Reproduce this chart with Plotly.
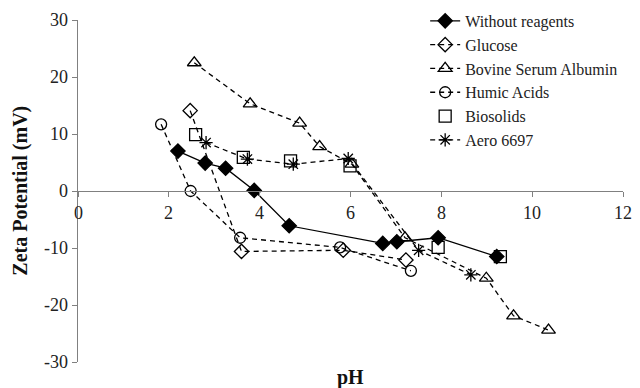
import plotly.graph_objects as go

# pH / zeta-potential measurements per conditioning reagent
ph_none = [2.20, 2.80, 3.25, 3.88, 4.65, 6.71, 7.02, 7.93, 9.22]
zeta_none = [7.0, 4.9, 4.0, 0.1, -6.1, -9.2, -8.9, -8.2, -11.5]

ph_glucose = [2.47, 3.60, 5.84, 7.22]
zeta_glucose = [14.1, -10.6, -10.4, -12.1]

ph_bsa = [2.56, 3.79, 4.88, 5.32, 6.03, 7.20, 8.99, 9.59, 10.36]
zeta_bsa = [22.5, 15.3, 11.9, 7.8, 4.7, -8.2, -15.3, -21.9, -24.4]

ph_humic = [1.83, 2.48, 3.57, 5.77, 7.33]
zeta_humic = [11.7, 0.0, -8.2, -9.9, -14.0]

ph_biosolids = [2.59, 3.64, 4.68, 5.99, 7.93, 9.30]
zeta_biosolids = [9.9, 5.9, 5.3, 4.4, -9.9, -11.5]

ph_aero = [2.82, 3.73, 4.74, 5.95, 7.50, 8.65]
zeta_aero = [8.5, 5.6, 4.7, 5.7, -10.4, -14.7]

x_ticks = [0, 2, 4, 6, 8, 10, 12]
y_ticks = [-30, -20, -10, 0, 10, 20, 30]

SERIF = "Times New Roman"
DASH = "5px,4px"
TICK_FONT = dict(family=SERIF, size=18, color="#222")
LEGEND_FONT = dict(family=SERIF, size=16, color="#222")

fig = go.Figure()


def add_series(x, y, name, symbol, mode="lines+markers", dash=DASH, size=10):
    fig.add_trace(go.Scatter(
        x=x, y=y, name=name, mode=mode,
        line=dict(color="black", width=1.3, dash=dash),
        marker=dict(symbol=symbol, size=size, color="black",
                    line=dict(color="black", width=1.3)),
    ))


add_series(ph_none, zeta_none, "Without reagents", "diamond", dash="solid", size=11)
add_series(ph_glucose, zeta_glucose, "Glucose", "diamond-open", size=11)
add_series(ph_bsa, zeta_bsa, "Bovine Serum Albumin", "triangle-up-open", size=12)
add_series(ph_humic, zeta_humic, "Humic Acids", "circle-open", size=11)
add_series(ph_biosolids, zeta_biosolids, "Biosolids", "square-open", mode="markers", size=12)
add_series(ph_aero, zeta_aero, "Aero 6697", "asterisk-open", size=11)

# Tick labels placed on the axes' own scales as serif text
tick_labels = []
for v in x_ticks:
    tick_labels.append(dict(text=str(v), x=v, y=0, xref="x", yref="y",
                            xanchor="center", yanchor="middle", yshift=-22,
                            showarrow=False, font=TICK_FONT))
for v in y_ticks:
    tick_labels.append(dict(text=str(v), x=0, y=v, xref="paper", yref="y",
                            xanchor="right", yanchor="middle", xshift=-8,
                            showarrow=False, font=TICK_FONT))

fig.update_layout(
    width=640, height=388,
    margin=dict(l=78, r=17, t=20, b=26, autoexpand=False),
    paper_bgcolor="white", plot_bgcolor="white",
    template="none",
    font=LEGEND_FONT,
    showlegend=True,
    legend=dict(
        x=0.637, y=1.047, xanchor="left", yanchor="top",
        bgcolor="rgba(0,0,0,0)", font=LEGEND_FONT,
        tracegroupgap=0,
    ),
    xaxis=dict(
        range=[0, 12], tickvals=x_ticks, showticklabels=False,
        showgrid=False, zeroline=False,
        showline=True, linecolor="#808080", linewidth=1.2,
        ticks="outside", ticklen=5, tickcolor="#808080",
        anchor="free", position=0.5,
    ),
    yaxis=dict(
        range=[-30, 30], tickvals=y_ticks, showticklabels=False,
        showgrid=False, zeroline=False,
        showline=True, linecolor="#808080", linewidth=1.2,
        ticks="outside", ticklen=5, tickcolor="#808080",
    ),
    annotations=tick_labels + [
        dict(text="<b>pH</b>", x=0.5, y=-0.045, xref="paper", yref="paper",
             xanchor="center", yanchor="middle", showarrow=False,
             font=dict(family=SERIF, size=20, color="#111")),
        dict(text="<b>Zeta Potential (mV)</b>", x=-0.107, y=0.5,
             xref="paper", yref="paper", textangle=-90,
             xanchor="center", yanchor="middle", showarrow=False,
             font=dict(family=SERIF, size=20, color="#111")),
    ],
)

fig.write_html("out.html")
